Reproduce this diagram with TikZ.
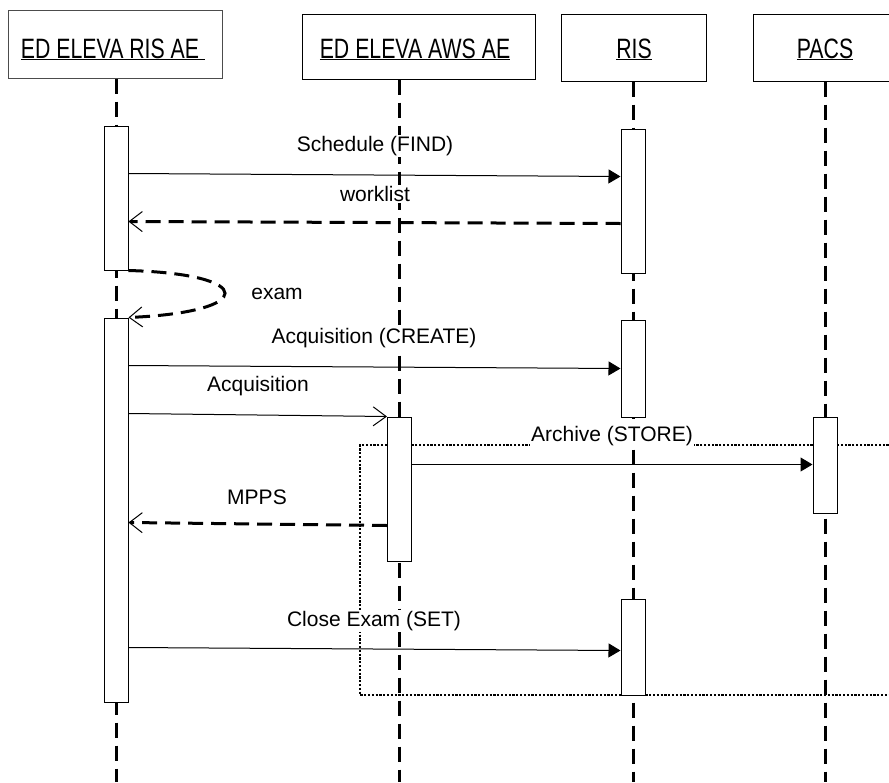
\documentclass[tikz,border=0pt]{standalone}
\usepackage{fontspec}
\setmainfont{Liberation Sans}
\usetikzlibrary{arrows.meta}
\newcommand{\msgfont}{\fontsize{21}{24}\selectfont}
\newcommand{\hdr}[1]{\scalebox{0.76}[1]{\fontsize{28}{30}\selectfont\underline{#1}}}

\begin{document}
\begin{tikzpicture}[x=1pt,y=-1pt,
  head/.style={draw,fill=white,line width=1pt,inner sep=0pt},
  bar/.style={draw,fill=white,line width=1pt,minimum width=24pt,inner sep=0pt},
  life/.style={line width=3pt,dash pattern=on 15pt off 8pt},
  call/.style={line width=1pt,-{Triangle[length=12pt,width=14pt]}},
  send/.style={line width=1pt,-{Straight Barb[length=13pt,width=19pt,line width=1pt]}},
  reply/.style={line width=3pt,dash pattern=on 15pt off 8pt,-{Straight Barb[length=13pt,width=20pt,line width=1pt]}},
  lbl/.style={fill=white,inner sep=1pt,font=\msgfont},
  frame/.style={line width=2.4pt,dash pattern=on 2.2pt off 1.6pt}]
   \clip (0,0) rectangle (889,782);
   \useasboundingbox (0,0) rectangle (889,782);
   % lifeline positions
   \coordinate (c1) at (116,0);
   \coordinate (c2) at (399.5,0);
   \coordinate (c3) at (633,0);
   \coordinate (c4) at (825,0);
   % objects
   \node[head,draw=black!70,minimum width=213.5pt,minimum height=68pt] (risae) at (115.25,44) {};
   \node[head,minimum width=233pt,minimum height=65pt] (awsae) at (418.5,46.5) {};
   \node[head,minimum width=145pt,minimum height=67pt] (ris) at (633.5,47.5) {};
   \node[head,minimum width=146pt,minimum height=67pt] (pacs) at (826,47.5) {};
   \node[anchor=base,inner sep=0pt] (risaet) at (113,58) {\hdr{ED ELEVA RIS AE\ }};
   \node[anchor=base,inner sep=0pt] (awsaet) at (415,58) {\hdr{ED ELEVA AWS AE}};
   \node[anchor=base,inner sep=0pt] (rist) at (634,58) {\hdr{RIS}};
   \node[anchor=base,inner sep=0pt] (pacst) at (825,58) {\hdr{PACS}};
   % fragment
   \draw[frame] (900,445) -| (360,695) -- (900,695);
   % lifelines
   \draw[life] (c1 |- risae.south) -- (c1 |- 0,782);
   \draw[life] (c2 |- awsae.south) -- (c2 |- 0,782);
   \draw[life] (c3 |- ris.south) -- (c3 |- 0,782);
   \draw[life] (c4 |- pacs.south) -- (c4 |- 0,782);
   % activations
   \node[bar,minimum height=144pt] (a1) at (c1 |- 0,198) {};
   \node[bar,minimum height=384pt] (a2) at (c1 |- 0,510) {};
   \node[bar,minimum height=144pt] (r1) at (c3 |- 0,201) {};
   \node[bar,minimum height=97pt] (r2) at (c3 |- 0,368.5) {};
   \node[bar,minimum height=96pt] (r3) at (c3 |- 0,647) {};
   \node[bar,minimum height=144pt] (w1) at (c2 |- 0,489) {};
   \node[bar,minimum height=96pt] (p1) at (c4 |- 0,465) {};
   % messages
   \draw[call] ([yshift=-48pt]a1.north east) -- ([yshift=-48pt]r1.north west);
   \draw[reply] ([yshift=-95pt]r1.north west) -- ([yshift=-96pt]a1.north east);
   \draw[reply] (a1.south east) .. controls (257,274) and (257,312) .. (a2.north east);
   \draw[call] ([yshift=-48pt]a2.north east) -- ([yshift=-49pt]r2.north west);
   \draw[send] ([yshift=-96pt]a2.north east) -- (w1.north west);
   \draw[call] ([yshift=-48pt]w1.north east) -- ([yshift=-48pt]p1.north west);
   \draw[reply] ([yshift=-109pt]w1.north west) -- ([yshift=-205pt]a2.north east);
   \draw[call] ([yshift=-330pt]a2.north east) -- ([yshift=-52pt]r3.north west);
   % labels
   \node[lbl] (schedule) at (375,146) {Schedule (FIND)};
   \node[lbl] (worklist) at (375,194) {worklist};
   \node[lbl] (exam) at (277,294) {exam};
   \node[lbl] (create) at (374,338) {Acquisition (CREATE)};
   \node[lbl] (acq) at (258,386) {Acquisition};
   \node[lbl] (store) at (612,436) {Archive (STORE)};
   \node[lbl] (mpps) at (257,497) {MPPS};
   \node[lbl] (set) at (374,621) {Close Exam (SET)};
\end{tikzpicture}
\end{document}
